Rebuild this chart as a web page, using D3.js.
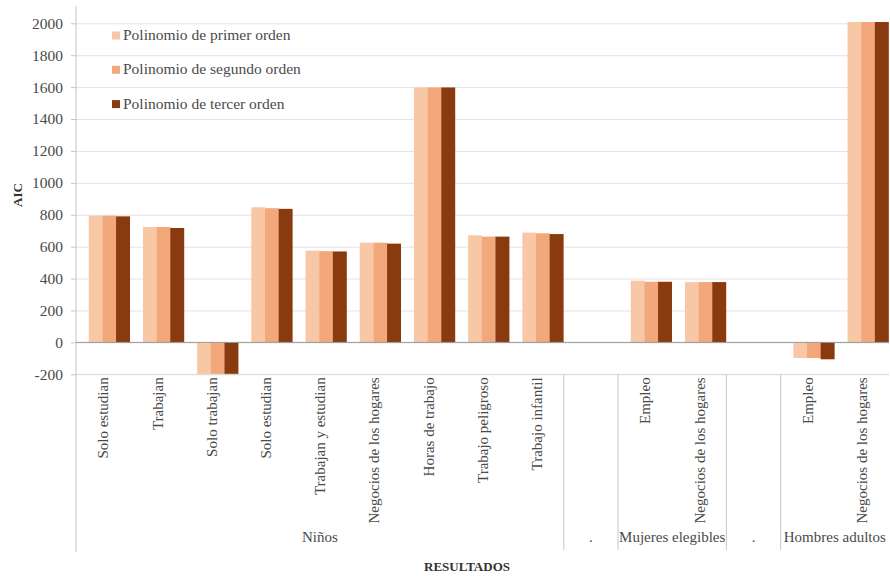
<!DOCTYPE html>
<html lang="es">
  <head>
    <meta charset="UTF-8" />
    <title>AIC por resultado</title>
    <script src="https://d3js.org/d3.v7.min.js"></script>
    <style>
      body { margin: 0; background: #fff; }
      svg text { font-family: "Liberation Serif", "Times New Roman", "DejaVu Serif", serif !important; }
      .grid line { stroke: #e3e3e3; }
      .grid path { display: none; }
    </style>
  </head>
  <body>
    <svg id="canvas"></svg>
  </body>
  <script>
    // categorías (orden del eje X); "" = hueco entre grupos
    let categories = [
      "Solo estudian", "Trabajan", "Solo trabajan", "Solo estudian",
      "Trabajan y estudian", "Negocios de los hogares", "Horas de trabajo",
      "Trabajo peligroso", "Trabajo infantil", "",
      "Empleo", "Negocios de los hogares", "",
      "Empleo", "Negocios de los hogares"
    ];
    let groupNames = ["Niños", ".", "Mujeres elegibles", ".", "Hombres adultos"];
    let groupSizes = [9, 1, 2, 1, 2];

    let seriesNames = [
      "Polinomio de primer orden",
      "Polinomio de segundo orden",
      "Polinomio de tercer orden"
    ];
    let primerOrden  = [794, 723, -200, 847, 575, 625, 1598, 671, 688, null, 387, 378, null, -98, 2008];
    let segundoOrden = [794, 723, -200, 841, 572, 625, 1598, 663, 684, null, 380, 378, null, -98, 2008];
    let tercerOrden  = [790, 717, -200, 837, 570, 619, 1598, 663, 679, null, 380, 378, null, -106, 2008];

    let yTicks = [-200, 0, 200, 400, 600, 800, 1000, 1200, 1400, 1600, 1800, 2000];

    let colors = ["#f8c8a6", "#f2a87b", "#8a3a0f"];

    let width = 890;
    let height = 576;
    let plotLeft = 76;
    let plotRight = 889;
    let plotTop = 23.3;
    let plotBottom = 374.3;

    let svg = d3.select("svg").attr("width", width).attr("height", height);

    let xScale = d3.scaleBand()
      .domain(d3.range(categories.length))
      .range([plotLeft, plotRight])
      .padding(0);

    let yScale = d3.scaleLinear()
      .domain([-200, 2000])
      .range([plotBottom, plotTop]);

    // líneas de cuadrícula
    svg.append("g")
      .attr("class", "grid")
      .attr("transform", "translate(" + plotLeft + ",0)")
      .call(d3.axisLeft(yScale).tickValues(yTicks).tickSize(-(plotRight - plotLeft)).tickFormat(""));

    // eje Y
    let yAxis = svg.append("g")
      .attr("transform", "translate(" + plotLeft + ",0)")
      .call(d3.axisLeft(yScale).tickValues(yTicks).tickFormat((d) => String(d))
        .tickSize(5).tickPadding(8).tickSizeOuter(0));
    yAxis.select(".domain").remove();
    yAxis.selectAll(".tick line").attr("stroke", "#c4c4c4");
    yAxis.selectAll(".tick text")
      .attr("fill", "#4a4a4a")
      .style("font-size", "15.5px");

    svg.append("line")
      .attr("x1", plotLeft).attr("x2", plotLeft)
      .attr("y1", 6).attr("y2", 552)
      .attr("stroke", "#c4c4c4");

    // barras
    let allSeries = [primerOrden, segundoOrden, tercerOrden];
    let bw = xScale.bandwidth();
    let barW = bw * 0.252;
    let offset = bw * 0.235;

    allSeries.forEach((values, s) => {
      svg.append("g")
        .selectAll("rect")
        .data(values.map((v, i) => ({ v: v, i: i })).filter((d) => d.v !== null))
        .enter()
        .append("rect")
        .attr("x", (d) => xScale(d.i) + offset + s * barW)
        .attr("width", barW + 0.3)
        .attr("y", (d) => yScale(Math.max(0, d.v)))
        .attr("height", (d) => Math.abs(yScale(d.v) - yScale(0)))
        .attr("fill", colors[s]);
    });

    // línea del cero
    svg.append("line")
      .attr("x1", plotLeft).attr("x2", plotRight)
      .attr("y1", yScale(0)).attr("y2", yScale(0))
      .attr("stroke", "#9a9a9a");

    // eje X (línea inferior)
    svg.append("line")
      .attr("x1", plotLeft).attr("x2", plotRight)
      .attr("y1", plotBottom).attr("y2", plotBottom)
      .attr("stroke", "#dcdcdc");

    // etiquetas de categorías
    svg.append("g")
      .selectAll("text")
      .data(categories)
      .enter()
      .append("text")
      .attr("transform", (d, i) => "translate(" + (xScale(i) + bw / 2) + "," + (plotBottom + 3) + ") rotate(-90)")
      .attr("dy", "0.35em")
      .attr("text-anchor", "end")
      .attr("fill", "#4a4a4a")
      .style("font-size", "15px")
      .text((d) => d);

    // separadores y nombres de grupos
    let start = 0;
    groupSizes.forEach((n, g) => {
      let x0 = xScale(start);
      let x1 = xScale(start + n - 1) + bw;
      if (g > 0) {
        svg.append("line")
          .attr("x1", x0).attr("x2", x0)
          .attr("y1", plotBottom).attr("y2", 550)
          .attr("stroke", "#c8c8c8");
      }
      svg.append("text")
        .attr("x", (x0 + x1) / 2)
        .attr("y", 542)
        .attr("text-anchor", "middle")
        .attr("fill", "#4a4a4a")
        .style("font-size", "15px")
        .text(groupNames[g]);
      start += n;
    });

    // títulos de ejes
    svg.append("text")
      .attr("x", 467)
      .attr("y", 571)
      .attr("text-anchor", "middle")
      .attr("fill", "#333")
      .style("font-size", "13px")
      .style("font-weight", "bold")
      .text("RESULTADOS");

    svg.append("text")
      .attr("transform", "translate(22,195) rotate(-90)")
      .attr("text-anchor", "middle")
      .attr("fill", "#333")
      .style("font-size", "13px")
      .style("font-weight", "bold")
      .text("AIC");

    // leyenda
    let legend = svg.append("g")
      .selectAll("g")
      .data(seriesNames)
      .enter()
      .append("g")
      .attr("transform", (d, i) => "translate(112," + (31.5 + i * 34.3) + ")");

    legend.append("rect")
      .attr("width", 8)
      .attr("height", 8)
      .attr("fill", (d, i) => colors[i]);

    legend.append("text")
      .attr("x", 11)
      .attr("y", 8.5)
      .attr("fill", "#4a4a4a")
      .style("font-size", "15.5px")
      .text((d) => d);
  </script>
</html>
